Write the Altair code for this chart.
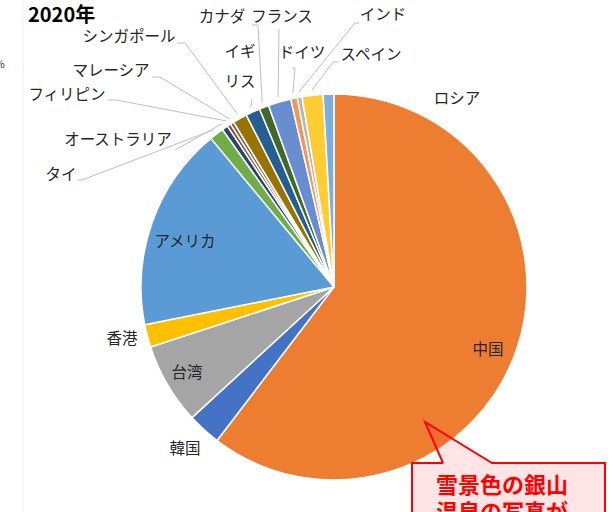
import altair as alt
import pandas as pd

# ---- data ----
countries = ["中国", "韓国", "台湾", "香港", "アメリカ", "タイ", "オーストラリア",
             "フィリピン", "マレーシア", "シンガポール", "イギリス", "カナダ",
             "フランス", "ドイツ", "インド", "スペイン", "ロシア"]
shares = [60.3, 2.8, 6.8, 1.9, 17.1, 1.2, 0.5, 0.3, 0.3, 1.2, 1.2, 0.8,
          1.9, 0.55, 0.4, 1.75, 0.9]
colors = ["#ED7D31", "#4472C4", "#A5A5A5", "#FFC000", "#5B9BD5", "#70AD47",
          "#264478", "#9E480E", "#636363", "#997300", "#255E91", "#43682B",
          "#698ED0", "#F1975A", "#B7B7B7", "#FFCD33", "#7CAFDD"]

# ---- layout (label placement, pixels) ----
label_text = ["中国", "韓国", "台湾", "香港", "アメリカ", "タイ", "オーストラリア",
              "フィリピン", "マレーシア", "シンガポール", "イギ\nリス", "カナダ",
              "フランス", "ドイツ", "インド", "スペイン", "ロシア"]
label_x = [488, 185, 187, 122, 185, 61, 118, 67, 111, 129, 240, 222, 282, 302, 383, 371, 457]
label_y = [350, 449, 373, 339, 242, 175, 140, 95, 71, 37, 52, 17, 17, 53, 15, 55, 99]
# leader lines: country, end point near label, elbow end
leader_country = ["タイ", "オーストラリア", "フィリピン", "マレーシア", "シンガポール",
                  "イギリス", "カナダ", "フランス", "ドイツ", "インド", "スペイン"]
leader_ex = [82, 175, 116, 160, 185, 252, 258, 279, 295, 355, 333]
leader_ey = [180, 150, 100, 77, 43, 99, 25, 29, 68, 23, 62]
leader_hx = [78, 175, 108, 152, 177, 252, 252, 279, 292, 359, 338]

CX, CY, R = 334, 287, 193
FONT = "Noto Sans CJK JP"

df = pd.DataFrame({"country": countries, "share": shares, "idx": range(len(countries))})

pie = alt.Chart(df).mark_arc(outerRadius=R, stroke="white", strokeWidth=1.5).encode(
    theta=alt.Theta("share:Q", stack=True),
    color=alt.Color("country:N", scale=alt.Scale(domain=countries, range=colors), legend=None),
    order=alt.Order("idx:Q"),
    x=alt.value(CX), y=alt.value(CY),
)

ldf = pd.DataFrame({"label": label_text, "lx": label_x, "ly": label_y})
labels = alt.Chart(ldf).mark_text(font=FONT, fontSize=15.5, color="#262626",
                                  lineBreak="\n", lineHeight=30, baseline="middle").encode(
    x=alt.X("lx:Q", scale=None, axis=None),
    y=alt.Y("ly:Q", scale=None, axis=None),
    text="label:N",
)

lead = pd.DataFrame({"country": leader_country, "ex": leader_ex, "ey": leader_ey, "hx": leader_hx})
lead_df = df.merge(lead, on="country", how="left")
lead_base = alt.Chart(lead_df).transform_joinaggregate(
    total="sum(share)"
).transform_window(
    cum="sum(share)", sort=[alt.SortField("idx")], frame=[None, 0]
).transform_filter("isValid(datum.ex)").transform_calculate(
    mid="2*PI*(datum.cum - datum.share/2)/datum.total"
).transform_calculate(
    ax=f"{CX} + {R + 5}*sin(datum.mid)",
    ay=f"{CY} - {R + 5}*cos(datum.mid)",
)
leaders = lead_base.mark_rule(color="#BFBFBF", strokeWidth=1).encode(
    x=alt.X("ax:Q", scale=None), y=alt.Y("ay:Q", scale=None),
    x2="ex:Q", y2="ey:Q",
)
elbows = lead_base.mark_rule(color="#BFBFBF", strokeWidth=1).encode(
    x=alt.X("ex:Q", scale=None), y=alt.Y("ey:Q", scale=None),
    x2="hx:Q", y2="ey:Q",
)

title_df = pd.DataFrame({"t": ["2020年"], "x": [28], "y": [16]})
title = alt.Chart(title_df).mark_text(font=FONT, fontSize=20, fontWeight="bold",
                                      align="left", baseline="middle", color="#000000").encode(
    x=alt.X("x:Q", scale=None), y=alt.Y("y:Q", scale=None), text="t:N")

pct_df = pd.DataFrame({"t": ["%"], "x": [5], "y": [65]})
pct = alt.Chart(pct_df).mark_text(font=FONT, fontSize=11, align="right",
                                  baseline="middle", color="#404040").encode(
    x=alt.X("x:Q", scale=None), y=alt.Y("y:Q", scale=None), text="t:N")

vline = alt.Chart(pd.DataFrame({"x": [23]})).mark_rule(color="#EEEEEE", strokeWidth=1).encode(
    x=alt.X("x:Q", scale=None), y=alt.value(0), y2=alt.value(512))

# callout
box = alt.Chart(pd.DataFrame({"x": [412], "x2": [605], "y": [463], "y2": [515]})).mark_rect(
    color="red", opacity=0.1).encode(
    x=alt.X("x:Q", scale=None), x2="x2:Q", y=alt.Y("y:Q", scale=None), y2="y2:Q")
tri = alt.Chart(pd.DataFrame({"x": [425, 443, 492], "y": [422, 433, 463], "y2": [422, 463, 463]})).mark_area(
    color="red", opacity=0.1).encode(
    x=alt.X("x:Q", scale=None), y=alt.Y("y:Q", scale=None), y2="y2:Q")
outline = alt.Chart(pd.DataFrame({
    "x": [443, 425, 492, 605, 605, 412, 412, 443],
    "y": [463, 422, 463, 463, 515, 515, 463, 463],
    "o": list(range(8))})).mark_line(color="red", strokeWidth=2).encode(
    x=alt.X("x:Q", scale=None), y=alt.Y("y:Q", scale=None), order="o:Q")
ctext = alt.Chart(pd.DataFrame({"t": ["雪景色の銀山", "温泉の写真が"], "x": [502, 502], "y": [486, 513]})).mark_text(
    font=FONT, fontSize=22, fontWeight="bold", color="#FF0000", baseline="middle").encode(
    x=alt.X("x:Q", scale=None), y=alt.Y("y:Q", scale=None), text="t:N")

chart = alt.layer(vline, pct, pie, leaders, elbows, labels, title, box, tri, outline, ctext).properties(
    width=616, height=512, padding=0, autosize=alt.AutoSizeParams(type="none")
).configure_view(stroke=None)

chart.save("out.html", embed_options={"renderer": "svg", "actions": False})
